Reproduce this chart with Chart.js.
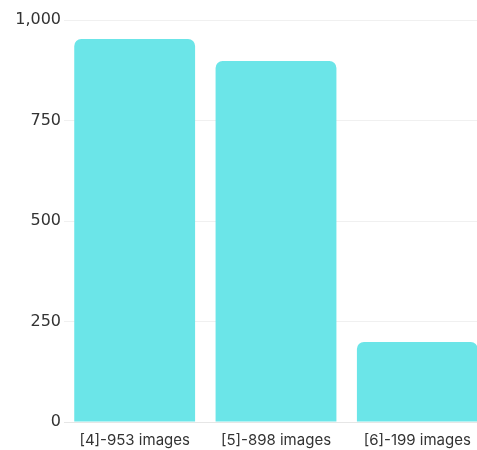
<!DOCTYPE html>
<html>
<head>
<meta charset="utf-8">
<script src="https://cdn.jsdelivr.net/npm/chart.js@4"></script>
<style>
	html, body { margin: 0; padding: 0; background: #fff; overflow: hidden; }
	#wrap { width: 477px; height: 450px; overflow: hidden; }
</style>
</head>
<body>
<div id="wrap"><canvas id="imagesChart" width="490" height="460"></canvas></div>
<script>
// image counts per class
var labels = ['[4]-953 images', '[5]-898 images', '[6]-199 images'];
var counts = [953, 898, 199];
var yTicks = [0, 250, 500, 750, 1000];

var ctx = document.getElementById('imagesChart').getContext('2d');
var imagesChart = new Chart(ctx, {
	type: 'bar',
	data: {
		labels: labels,
		datasets: [{
			data: counts,
			backgroundColor: '#6be5e8',
			borderRadius: 7,
			borderSkipped: 'start',
			barPercentage: 0.855,
			categoryPercentage: 1
		}]
	},
	options: {
		responsive: false,
		animation: false,
		layout: {
			padding: { top: 20, right: 2, bottom: 2, left: 0 }
		},
		plugins: {
			legend: { display: false },
			tooltip: { enabled: false }
		},
		scales: {
			x: {
				grid: { display: false, drawTicks: false },
				border: { display: true, color: '#e6e6e6' },
				ticks: {
					color: '#333',
					padding: 9,
					font: { family: 'Inter', size: 15 }
				}
			},
			y: {
				min: 0,
				max: 1000,
				afterFit: function(scale) { scale.width = 64; },
				afterBuildTicks: function(scale) {
					scale.ticks = yTicks.map(function(v) { return { value: v }; });
				},
				grid: { color: '#f0f0f0', drawTicks: false },
				border: { display: false },
				ticks: {
					color: '#333',
					padding: 3,
					font: { family: 'DejaVu Sans', size: 16 },
					callback: function(value) { return value.toLocaleString('en-US'); }
				}
			}
		}
	}
});
</script>
</body>
</html>
